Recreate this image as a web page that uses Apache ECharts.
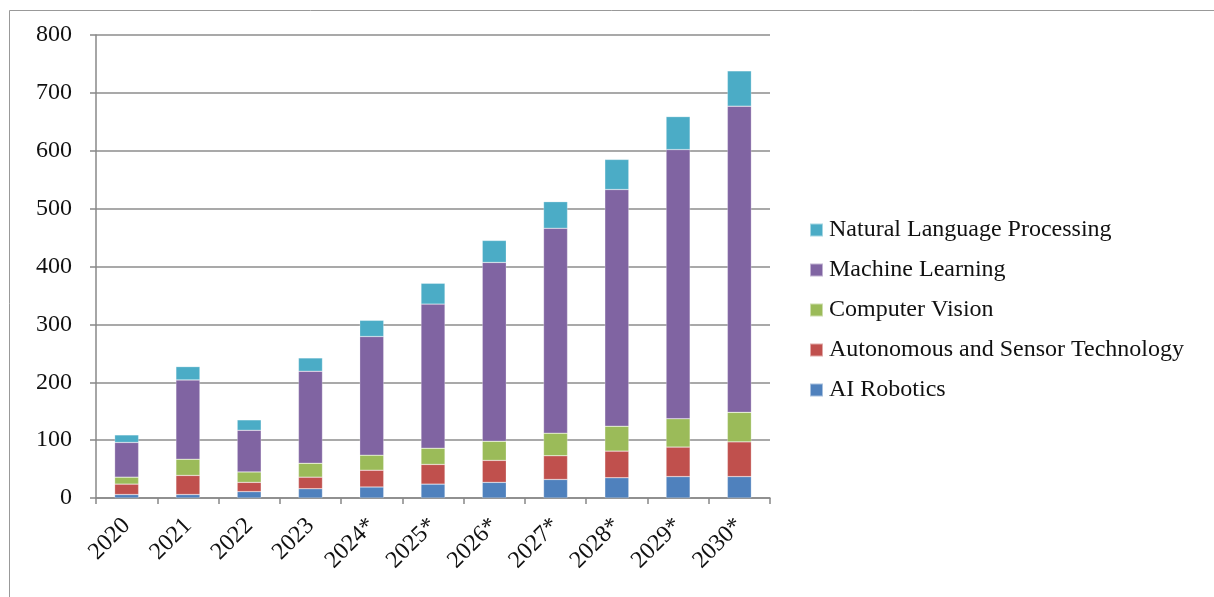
<!DOCTYPE html>
<html>
<head>
<meta charset="utf-8">
<script src="https://cdn.jsdelivr.net/npm/echarts@6/dist/echarts.min.js"></script>
<style>
html,body{margin:0;padding:0;background:#fff;}
#main{width:1214px;height:597px;}
</style>
</head>
<body>
<div id="main"></div>
<script>
var categories = ['2020','2021','2022','2023','2024*','2025*','2026*','2027*','2028*','2029*','2030*'];
var aiRobotics = [6, 6, 11, 16, 19, 24, 27, 32, 35, 37, 37];
var autonomous = [18, 33, 16, 20, 29, 34, 38, 41, 46, 51, 60];
var computerVision = [12, 28, 18, 24, 26, 28, 33, 39, 43, 49, 51];
var machineLearning = [60, 137, 72, 159, 205, 249, 309, 354, 409, 465, 529];
var nlp = [13, 23, 18, 23, 28, 36, 38, 46, 52, 57, 61];
var yTicks = [0, 100, 200, 300, 400, 500, 600, 700, 800];

var FONT = "'Liberation Serif', 'Times New Roman', serif";
var chart = echarts.init(document.getElementById('main'));

function mk(name, data, color) {
  return {
    name: name, type: 'bar', stack: 'total', data: data, barWidth: 24,
    itemStyle: { color: color, borderColor: 'rgba(255,255,255,0.5)', borderWidth: 0.5 }
  };
}

chart.setOption({
  animation: false,
  backgroundColor: '#fff',
  graphic: [
    { type: 'line', shape: { x1: 9.5, y1: 10.5, x2: 1214, y2: 10.5 }, style: { stroke: '#999', lineWidth: 1 } },
    { type: 'line', shape: { x1: 9.5, y1: 10.5, x2: 9.5, y2: 597 }, style: { stroke: '#999', lineWidth: 1 } }
  ],
  grid: { left: 96, right: 444, top: 35, bottom: 99, containLabel: false },
  legend: {
    orient: 'vertical',
    left: 809,
    top: 218,
    padding: 0,
    itemWidth: 13,
    itemHeight: 13,
    itemGap: 16,
    icon: 'rect',
    textStyle: { fontFamily: FONT, fontSize: 24, lineHeight: 24, color: '#111', padding: [0, 0, 0, 1] },
    data: ['Natural Language Processing', 'Machine Learning', 'Computer Vision', 'Autonomous and Sensor Technology', 'AI Robotics']
  },
  xAxis: {
    type: 'category',
    data: categories,
    boundaryGap: true,
    axisLine: { lineStyle: { color: '#888', width: 1.5 } },
    axisTick: { show: true, alignWithLabel: false, length: 6, lineStyle: { color: '#888', width: 1.5 } },
    axisLabel: { rotate: 45, fontFamily: FONT, fontSize: 24, color: '#111', margin: 24, interval: 0 }
  },
  yAxis: {
    type: 'value',
    min: 0, max: 800, interval: 100,
    axisLine: { show: true, lineStyle: { color: '#888', width: 1.5 } },
    axisTick: { show: true, length: 6, lineStyle: { color: '#888', width: 1.5 } },
    splitLine: { show: true, lineStyle: { color: '#8c8c8c', width: 1.5 } },
    axisLabel: {
      fontFamily: FONT, fontSize: 24, color: '#111', margin: 24,
      formatter: function (v) { return yTicks.indexOf(v) >= 0 ? String(v) : ''; }
    }
  },
  series: [
    mk('AI Robotics', aiRobotics, '#4F81BD'),
    mk('Autonomous and Sensor Technology', autonomous, '#C0504D'),
    mk('Computer Vision', computerVision, '#9BBB59'),
    mk('Machine Learning', machineLearning, '#8064A2'),
    mk('Natural Language Processing', nlp, '#4BACC6')
  ]
});
</script>
</body>
</html>
